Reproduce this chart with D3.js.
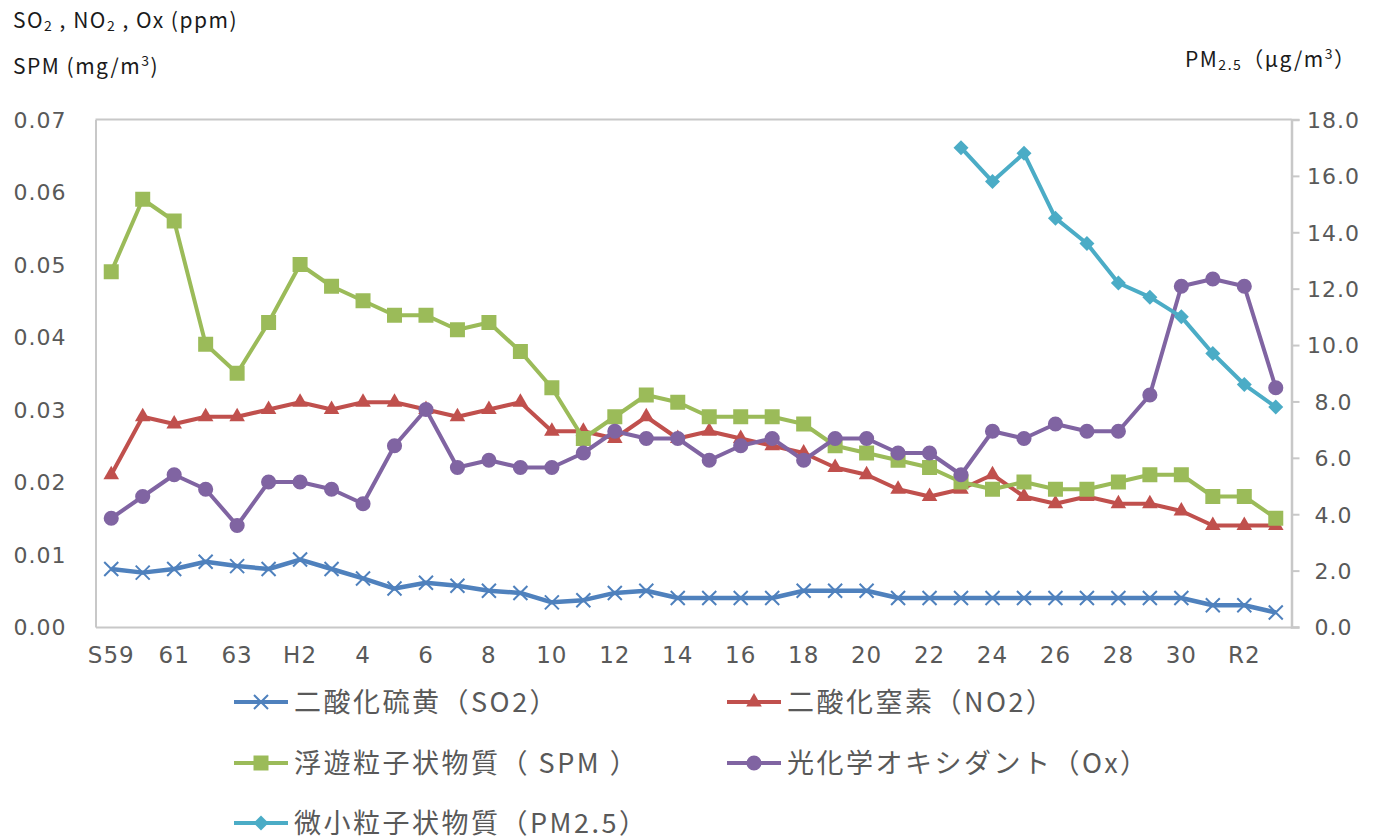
<!DOCTYPE html>
<html><head><meta charset="utf-8">
<script src="https://cdn.jsdelivr.net/npm/d3@7"></script>
<style>body{margin:0;background:#fff} svg{display:block}</style>
</head><body><svg id="c" width="1384" height="840"></svg>
<script>
const categories = ["S59","S60","S61","S62","S63","H1","H2","H3","H4","H5","H6","H7","H8","H9","H10",
  "H11","H12","H13","H14","H15","H16","H17","H18","H19","H20","H21","H22","H23","H24","H25","H26",
  "H27","H28","H29","H30","R1","R2","R3"];
const tickCategories = ["S59","S61","S63","H2","H4","H6","H8","H10","H12","H14","H16","H18","H20","H22","H24","H26","H28","H30","R2"];
const tickLabels = ["S59","61","63","H2","4","6","8","10","12","14","16","18","20","22","24","26","28","30","R2"];
const leftTicks = [0,0.01,0.02,0.03,0.04,0.05,0.06,0.07];
const rightTicks = [0,2,4,6,8,10,12,14,16,18];

const so2 = [0.008,0.0075,0.008,0.009,0.0084,0.008,0.0093,0.008,0.0067,0.0053,
  0.0061,0.0057,0.005,0.0047,0.0034,0.0037,0.0047,0.005,0.004,0.004,
  0.004,0.004,0.005,0.005,0.005,0.004,0.004,0.004,0.004,0.004,
  0.004,0.004,0.004,0.004,0.004,0.003,0.003,0.002];
const no2 = [0.021,0.029,0.028,0.029,0.029,0.030,0.031,0.030,0.031,0.031,
  0.030,0.029,0.030,0.031,0.027,0.027,0.026,0.029,0.026,0.027,
  0.026,0.025,0.024,0.022,0.021,0.019,0.018,0.019,0.021,0.018,
  0.017,0.018,0.017,0.017,0.016,0.014,0.014,0.014];
const spm = [0.049,0.059,0.056,0.039,0.035,0.042,0.050,0.047,0.045,0.043,
  0.043,0.041,0.042,0.038,0.033,0.026,0.029,0.032,0.031,0.029,
  0.029,0.029,0.028,0.025,0.024,0.023,0.022,0.020,0.019,0.020,
  0.019,0.019,0.020,0.021,0.021,0.018,0.018,0.015];
const ox = [0.015,0.018,0.021,0.019,0.014,0.020,0.020,0.019,0.017,0.025,
  0.030,0.022,0.023,0.022,0.022,0.024,0.027,0.026,0.026,0.023,
  0.025,0.026,0.023,0.026,0.026,0.024,0.024,0.021,0.027,0.026,
  0.028,0.027,0.027,0.032,0.047,0.048,0.047,0.033];
const pm25 = [null,null,null,null,null,null,null,null,null,null,
  null,null,null,null,null,null,null,null,null,null,
  null,null,null,null,null,null,null,17.0,15.8,16.8,
  14.5,13.6,12.2,11.7,11.0,9.7,8.6,7.8];

const seriesNames = ["二酸化硫黄（SO2）","二酸化窒素（NO2）","浮遊粒子状物質（ SPM ）","光化学オキシダント（Ox）","微小粒子状物質（PM2.5）"];
const seriesColors = ["#4F81BD","#C0504D","#9BBB59","#8064A2","#4BACC6"];

const svg = d3.select("#c");
const L = 95.5, R = 1291.5, T = 119.5, B = 627;
const x = d3.scaleBand().domain(categories).range([L, R]);
const cx = c => x(c) + x.bandwidth()/2;
const yL = d3.scaleLinear().domain([0,0.07]).range([B,T]);
const yR = d3.scaleLinear().domain([0,18]).range([B,T]);
const axisCol = "#C8C8C8";
const textCol = "#595959";
const numFont = "'DejaVu Sans', sans-serif";
const jpFont = "'Noto Sans CJK JP', sans-serif";

// plot frame (top line)
svg.append("line").attr("x1",L).attr("x2",R).attr("y1",T).attr("y2",T)
  .attr("stroke",axisCol).attr("stroke-width",2);

// left axis
const gL = svg.append("g").attr("transform",`translate(${L},0)`)
  .call(d3.axisLeft(yL).tickValues(leftTicks).tickSize(0).tickPadding(29).tickFormat(d3.format(".2f")));
gL.select(".domain").attr("stroke",axisCol).attr("stroke-width",2);
gL.selectAll("text").attr("fill",textCol).style("font-family",numFont).style("font-size","22px")
  .style("letter-spacing","1px").attr("dy","0.36em");

// right axis
const gR = svg.append("g").attr("transform",`translate(${R},0)`)
  .call(d3.axisRight(yR).tickValues(rightTicks).tickSize(8).tickFormat(d3.format(".1f")));
gR.select(".domain").attr("stroke",axisCol).attr("stroke-width",2.5);
gR.selectAll(".tick line").attr("stroke",axisCol).attr("stroke-width",2);
gR.selectAll("text").attr("fill",textCol).style("font-family",numFont).style("font-size","22px")
  .style("letter-spacing","1px").attr("text-anchor","middle").attr("x",42).attr("dy","0.36em");

// bottom axis
const gB = svg.append("g").attr("transform",`translate(0,${B})`)
  .call(d3.axisBottom(x).tickValues(tickCategories).tickSize(0)
    .tickFormat(d => tickLabels[tickCategories.indexOf(d)]));
gB.select(".domain").attr("stroke",axisCol).attr("stroke-width",2);
gB.selectAll("text").attr("fill",textCol).style("font-family",numFont).style("font-size","23px")
  .style("letter-spacing","1px").attr("y",36).attr("dy","0");

// series
const data = [
  {vals: so2, y: yL, shape: "x"},
  {vals: no2, y: yL, shape: "tri"},
  {vals: spm, y: yL, shape: "sq"},
  {vals: ox, y: yL, shape: "circ"},
  {vals: pm25, y: yR, shape: "dia"}
];
function markerPath(shape){
  if (shape==="tri") return d3.symbol(d3.symbolTriangle, 105)();
  if (shape==="sq") return d3.symbol(d3.symbolSquare, 225)();
  if (shape==="circ") return d3.symbol(d3.symbolCircle, 180)();
  if (shape==="dia") return "M0,-7.5L7.5,0L0,7.5L-7.5,0Z";
  return "M-7,-7L7,7M-7,7L7,-7";
}
function drawMarker(g, shape, color){
  if (shape==="x") {
    g.append("path").attr("d", markerPath(shape)).attr("stroke",color).attr("stroke-width",2).attr("fill","none");
  } else {
    g.append("path").attr("d", markerPath(shape)).attr("fill",color).attr("stroke","none");
  }
}
data.forEach((s,si) => {
  const color = seriesColors[si];
  const pts = categories.map((c,i) => ({c, v: s.vals[i]})).filter(d => d.v != null);
  const line = d3.line().x(d => cx(d.c)).y(d => s.y(d.v));
  svg.append("path").datum(pts).attr("d", line).attr("fill","none")
    .attr("stroke",color).attr("stroke-width", si===0 ? 4.5 : 4).attr("stroke-linejoin","round");
  pts.forEach(d => {
    const g = svg.append("g").attr("transform",`translate(${cx(d.c)},${s.y(d.v)})`);
    drawMarker(g, s.shape, color);
  });
});

// axis titles
const t1 = svg.append("text").attr("x",13).attr("y",28).attr("fill","#1a1a1a")
  .style("font-family",jpFont).style("font-size","21px").style("letter-spacing","1.5px");
t1.append("tspan").text("SO");
t1.append("tspan").text("2").style("font-size","14px").attr("dy","3");
t1.append("tspan").text(" , NO").attr("dy","-3");
t1.append("tspan").text("2").style("font-size","14px").attr("dy","3");
t1.append("tspan").text(" , Ox (ppm)").attr("dy","-3");

const t2 = svg.append("text").attr("x",13).attr("y",74).attr("fill","#1a1a1a")
  .style("font-family",jpFont).style("font-size","21px").style("letter-spacing","1.5px");
t2.append("tspan").text("SPM (mg/m");
t2.append("tspan").text("3").style("font-size","14px").attr("dy","-8");
t2.append("tspan").text(")").attr("dy","8");

const t3 = svg.append("text").attr("x",1185).attr("y",67).attr("fill","#1a1a1a")
  .style("font-family",jpFont).style("font-size","21px").style("letter-spacing","1.5px");
t3.append("tspan").text("PM");
t3.append("tspan").text("2.5").style("font-size","14px").attr("dy","3");
t3.append("tspan").text("（μg/m").attr("dy","-3");
t3.append("tspan").text("3").style("font-size","14px").attr("dy","-8");
t3.append("tspan").text("）").attr("dy","8");

// legend
const legendPos = [
  {x:234, y:702}, {x:727, y:702},
  {x:234, y:763}, {x:727, y:763},
  {x:234, y:823}
];
seriesNames.forEach((name, i) => {
  const p = legendPos[i];
  const g = svg.append("g").attr("transform",`translate(${p.x},${p.y})`);
  g.append("line").attr("x1",0).attr("x2",54).attr("y1",0).attr("y2",0)
    .attr("stroke",seriesColors[i]).attr("stroke-width",4);
  const mg = g.append("g").attr("transform","translate(27,0)");
  drawMarker(mg, data[i].shape, seriesColors[i]);
  g.append("text").attr("x",60).attr("y",0).attr("dy","0.36em").attr("fill",textCol)
    .style("font-family",jpFont).style("font-size","27px").style("letter-spacing","2.5px").text(name);
});
</script></body></html>
